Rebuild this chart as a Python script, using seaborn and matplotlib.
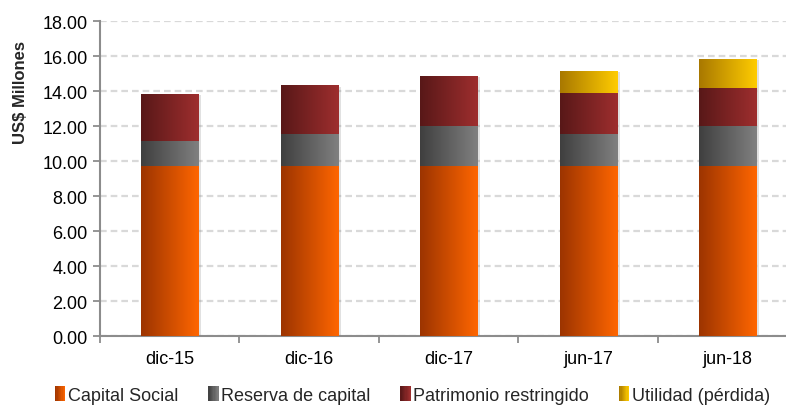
import numpy as np
import pandas as pd
import matplotlib
matplotlib.use("Agg")
import matplotlib.pyplot as plt
import matplotlib.patheffects as pe
import seaborn as sns
from matplotlib.colors import LinearSegmentedColormap
from matplotlib.patches import Patch, Rectangle
from matplotlib.legend_handler import HandlerBase

# datos (US$ millones)
periodos = ["dic-15", "dic-16", "dic-17", "jun-17", "jun-18"]
capital_social = [9.70, 9.70, 9.70, 9.70, 9.70]
reserva_capital = [1.45, 1.85, 2.30, 1.85, 2.30]
patrimonio_restringido = [2.68, 2.79, 2.86, 2.34, 2.17]
utilidad = [0.00, 0.00, 0.00, 1.25, 1.66]
y_ticks = [0, 2, 4, 6, 8, 10, 12, 14, 16, 18]

series = ["Capital Social", "Reserva de capital", "Patrimonio restringido", "Utilidad (pérdida)"]
valores = [capital_social, reserva_capital, patrimonio_restringido, utilidad]

# degradado izquierda (oscuro) -> derecha (claro)
gradientes = {
    "Capital Social": ("#9c3400", "#ff6600"),
    "Reserva de capital": ("#3f3f3f", "#808080"),
    "Patrimonio restringido": ("#581818", "#9e2e2e"),
    "Utilidad (pérdida)": ("#a87800", "#ffcc00"),
}
cmaps = {s: LinearSegmentedColormap.from_list(s, gradientes[s]) for s in series}

sns.set_style("white")
plt.rcParams["font.family"] = ["Liberation Sans", "DejaVu Sans"]

df = pd.DataFrame({"periodo": periodos})
acum = np.cumsum(np.array(valores), axis=0)
for s, fila in zip(series, acum):
    df[s] = fila

fig = plt.figure(figsize=(7.86, 4.06), dpi=100)
ax = fig.add_axes([0.1272, 0.1692, 0.8874, 0.7766])

grad = np.linspace(0, 1, 256).reshape(1, -1)

# barras acumuladas: primero la mas alta, luego las de abajo encima
for k, i in enumerate(reversed(range(len(series)))):
    s = series[i]
    z = 3 + 2 * k
    antes = len(ax.patches)
    sns.barplot(data=df, x="periodo", y=s, ax=ax, width=0.41,
                color=gradientes[s][1], linewidth=0, zorder=z, errorbar=None)
    for p in ax.patches[antes:]:
        if p.get_height() <= 0:
            continue
        if k == 0:
            p.set_path_effects([pe.SimplePatchShadow(offset=(2, -1), shadow_rgbFace="#888888", alpha=0.25),
                                pe.Normal()])
        x0, y0 = p.get_x(), p.get_y()
        im = ax.imshow(grad, cmap=cmaps[s], aspect="auto", zorder=z + 1,
                       extent=[x0, x0 + p.get_width(), y0, y0 + p.get_height()])
        im.set_clip_path(p)

ax.set_xlim(-0.5, len(periodos) - 0.5)
ax.set_ylim(0, 18)
ax.set_yticks(y_ticks)
ax.set_yticklabels([f"{v:.2f}" for v in y_ticks])
ax.set_xticks(range(len(periodos)))
ax.set_xticklabels(periodos)
ax.set_xticks(np.arange(-0.5, len(periodos), 1.0), minor=True)

ax.set_xlabel("")
ax.set_ylabel("US$ Millones", fontsize=12, fontweight="bold")
ax.yaxis.set_label_coords(-0.103, 0.776)

ax.grid(axis="y", color="#d9d9d9", linestyle=(0, (3, 1.8)), linewidth=1.6)
ax.set_axisbelow(True)
for lado in ["top", "right"]:
    ax.spines[lado].set_visible(False)
for lado in ["left", "bottom"]:
    ax.spines[lado].set_color("#8c8c8c")
    ax.spines[lado].set_linewidth(1.5)

ax.tick_params(axis="y", which="major", length=5, width=1.3, color="#8c8c8c",
               labelsize=13, labelcolor="black", pad=4, left=True)
ax.tick_params(axis="x", which="major", length=0, labelsize=13, labelcolor="black", pad=10)
ax.tick_params(axis="x", which="minor", length=5, width=1.3, color="#8c8c8c", bottom=True)


class HandlerGradiente(HandlerBase):
    def create_artists(self, legend, orig_handle, xdescent, ydescent, width, height, fontsize, trans):
        cmap = cmaps[orig_handle.get_label()]
        n = 8
        tiras = []
        for j in range(n):
            r = Rectangle((-xdescent + j * width / n, -ydescent - 1), width / n + 0.3, height + 2,
                          facecolor=cmap((j + 0.5) / n), edgecolor="none", transform=trans)
            tiras.append(r)
        return tiras


handles = [Patch(label=s) for s in series]
fig.legend(handles=handles, labels=series, loc="center", bbox_to_anchor=(0.525, 0.024),
           ncol=4, frameon=False, fontsize=13, handlelength=0.55, handleheight=0.6,
           handletextpad=0.17, columnspacing=1.65, borderpad=0,
           handler_map={Patch: HandlerGradiente()})

fig.savefig("out.png", dpi=100)
